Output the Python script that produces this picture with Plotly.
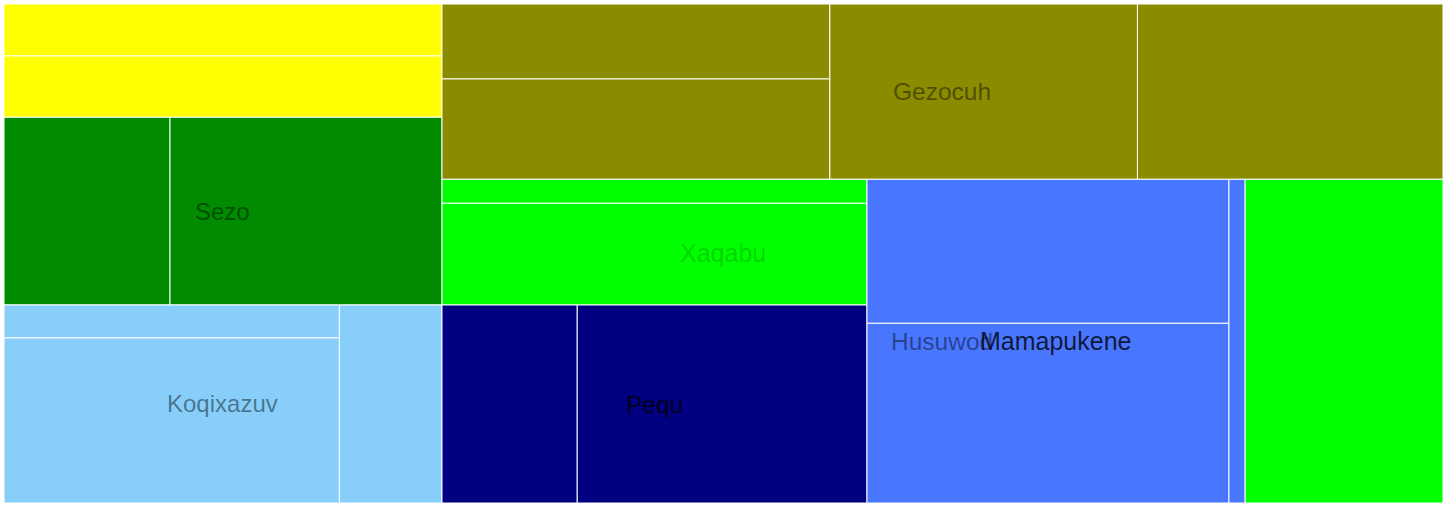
import plotly.graph_objects as go

# ---------------- data ----------------
# hierarchy in plotly-treemap style: ids / parents / values (values only on leaves)
ids = ["Y1", "Y2", "Sezo", "Koqixazuv", "Gezocuh", "Husuwod",
       "Sezo-1", "Sezo-2",
       "Koqixazuv-1", "Koqixazuv-2", "Koqixazuv-3",
       "Gezocuh-1", "Gezocuh-2", "Gezocuh-3", "Gezocuh-4",
       "Xaqabu", "Pequ", "Mamapukene", "Husuwod-1",
       "Xaqabu-1", "Xaqabu-2",
       "Pequ-1", "Pequ-2",
       "Mamapukene-1", "Mamapukene-2", "Mamapukene-3"]
parents = ["", "", "", "", "", "",
           "Sezo", "Sezo",
           "Koqixazuv", "Koqixazuv", "Koqixazuv",
           "Gezocuh", "Gezocuh", "Gezocuh", "Gezocuh",
           "Husuwod", "Husuwod", "Husuwod", "Husuwod",
           "Xaqabu", "Xaqabu",
           "Pequ", "Pequ",
           "Mamapukene", "Mamapukene", "Mamapukene"]
values = [31.7, 37.4, None, None, None, None,
          43.4, 71.1,
          15.4, 77.1, 28.3,
          40.5, 54.2, 75.1, 74.6,
          None, None, None, 89.3,
          14.2, 60.2,
          37.3, 79.9,
          72.6, 90.6, 7.2]

# ---------------- styling / layout hints ----------------
group_colors = {"": "#FFFF00", "Sezo": "#008B00", "Koqixazuv": "#87CEFA",
                "Gezocuh": "#8B8B00", "Husuwod": "#00FF00", "Xaqabu": "#00FF00",
                "Pequ": "#000080", "Mamapukene": "#4876FF"}
# strip (column) index of each node inside its parent
strip = [0, 0, 0, 0, 1, 1,
         0, 1,
         0, 0, 1,
         0, 0, 1, 2,
         0, 0, 1, 2,
         0, 0,
         0, 1,
         0, 0, 1]
label_alpha = {"Sezo": 0.45, "Koqixazuv": 0.45, "Gezocuh": 0.45, "Husuwod": 0.45,
               "Xaqabu": 0.18, "Pequ": 0.78, "Mamapukene": 0.78}
label_size = {"Sezo": 24, "Koqixazuv": 24, "Gezocuh": 24.5, "Husuwod": 24.5,
              "Xaqabu": 25, "Pequ": 24.5, "Mamapukene": 25}
label_nudge = {"Xaqabu": (69, 11)}

W, H = 1439, 499  # plot-area extent in layout units

# ---------------- layout computation ----------------
strip_of = dict(zip(ids, strip))
leaf_value = {i: v for i, v in zip(ids, values) if v is not None}
children = {}
for i, p in zip(ids, parents):
    children.setdefault(p, []).append(i)


def total(n):
    if n in leaf_value:
        return leaf_value[n]
    return sum(total(c) for c in children[n])


rects = {}


def place(n, x0, y0, x1, y1):
    rects[n] = (x0, y0, x1, y1)
    kids = children.get(n)
    if not kids:
        return
    strips = []
    for k in kids:
        s = strip_of[k]
        while len(strips) <= s:
            strips.append([])
        strips[s].append(k)
    tot = sum(total(k) for k in kids)
    wide = (x1 - x0) >= (y1 - y0)
    pos = x0 if wide else y0
    for st in strips:
        ssum = sum(total(k) for k in st)
        if wide:
            w = (x1 - x0) * ssum / tot
            yy = y0
            for k in st:
                h = (y1 - y0) * total(k) / ssum
                place(k, pos, yy, pos + w, yy + h)
                yy += h
            pos += w
        else:
            h = (y1 - y0) * ssum / tot
            xx = x0
            for k in st:
                w = (x1 - x0) * total(k) / ssum
                place(k, xx, pos, xx + w, pos + h)
                xx += w
            pos += h


place("", 0, 0, W, H)

# ---------------- figure ----------------
fig = go.Figure()
parent_of = dict(zip(ids, parents))
for n in ids:
    if n not in leaf_value:
        continue
    x0, y0, x1, y1 = rects[n]
    fig.add_trace(go.Scatter(
        x=[x0, x1, x1, x0, x0], y=[y0, y0, y1, y1, y0],
        mode="lines", fill="toself",
        fillcolor=group_colors[parent_of[n]],
        line=dict(color="white", width=1),
        hoveron="fills", name=n,
        text=f"{n}: {leaf_value[n]}", hoverinfo="text",
        showlegend=False))

annotations = []
for n in ids:
    if n in leaf_value:
        continue
    x0, y0, x1, y1 = rects[n]
    dx, dy = label_nudge.get(n, (0, 0))
    annotations.append(dict(
        x=(x0 + x1) / 2 + dx, y=(y0 + y1) / 2 + dy, xref="x", yref="y",
        text=n, showarrow=False, xanchor="center", yanchor="middle",
        font=dict(family="Liberation Sans, Arial, sans-serif",
                  size=label_size[n],
                  color=f"rgba(0,0,0,{label_alpha[n]})")))

fig.update_layout(
    width=1446, height=507,
    margin=dict(l=4, r=3, t=4, b=4, pad=0),
    paper_bgcolor="white", plot_bgcolor="white",
    xaxis=dict(range=[0, W], visible=False, fixedrange=True),
    yaxis=dict(range=[H, 0], visible=False, fixedrange=True),
    annotations=annotations,
    showlegend=False,
)

fig.write_html("out.html")
